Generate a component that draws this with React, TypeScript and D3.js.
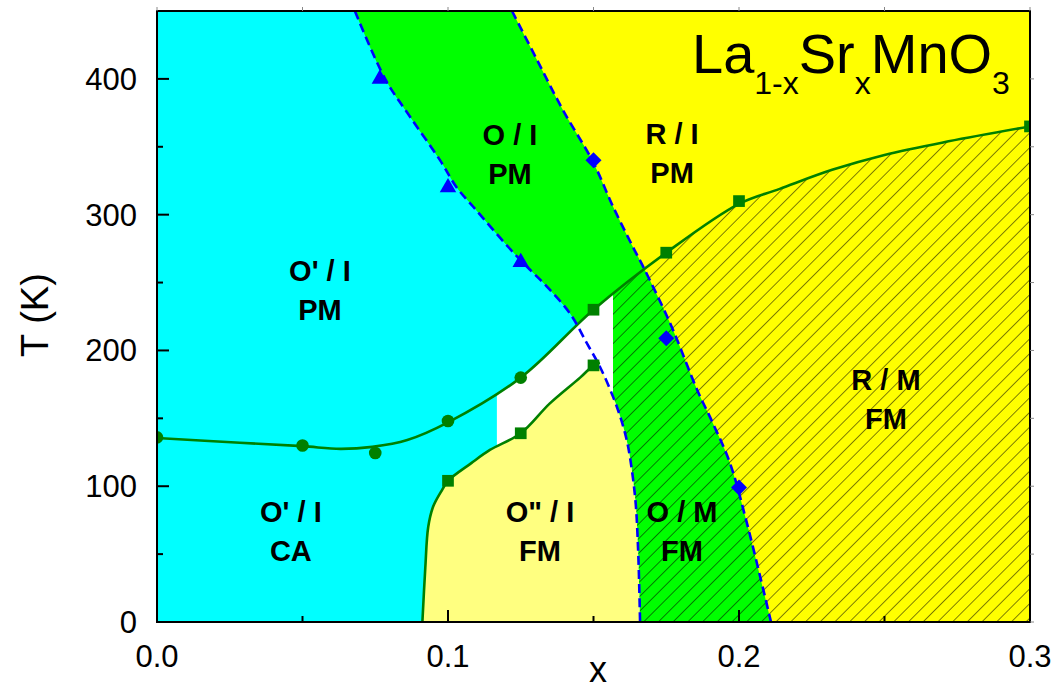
import React from "react";
import * as d3 from "d3";

// axis ticks
const xMajorTicks = [0, 0.1, 0.2, 0.3];
const xMinorTicks = [0.05, 0.15, 0.25];
const yMajorTicks = [0, 100, 200, 300, 400];
const yMinorTicks = [50, 150, 250, 350];

// phase boundaries, [x, T(K)]
const upperLine = [
  [0, 135.5], [0.0285, 132], [0.05, 129.5], [0.063, 127.5], [0.074, 129],
  [0.086, 134], [0.1, 147], [0.125, 180], [0.15, 230], [0.175, 272],
  [0.2, 308], [0.214, 319], [0.232, 333], [0.25, 344], [0.272, 354], [0.3, 365],
];
const lowerLine = [
  [0.0912, 0], [0.0922, 40], [0.0932, 70], [0.0949, 85], [0.0979, 97],
  [0.1, 104], [0.108, 117], [0.1144, 126.7], [0.125, 139], [0.135, 161],
  [0.1454, 180], [0.15, 189], [0.1522, 191],
];
const dashedLeft = [
  [0.068, 450], [0.0784, 400], [0.087, 372], [0.0973, 340], [0.103, 320],
  [0.1086, 306], [0.1208, 276], [0.127, 262], [0.134, 247], [0.142, 227],
  [0.1478, 205], [0.1522, 188], [0.1567, 166], [0.1598, 147], [0.1619, 129],
  [0.1643, 92], [0.1653, 55], [0.166, 0],
];
const dashedRight = [
  [0.122, 450], [0.1306, 414], [0.1395, 377], [0.1498, 339], [0.1567, 306],
  [0.1636, 276], [0.1677, 259], [0.1753, 225], [0.1787, 208], [0.1856, 171],
  [0.191, 146.5], [0.1969, 117], [0.2027, 73], [0.211, 0],
];
const whiteStrip = [0.1168, 0.1567];

// measured points
const circlePts = [[0, 136], [0.05, 130], [0.075, 124.5], [0.1, 148], [0.125, 180]];
const squarePts = [
  [0.1, 104], [0.125, 139], [0.15, 189],
  [0.15, 230], [0.175, 272], [0.2, 310], [0.3, 365],
];
const trianglePts = [[0.0766, 400], [0.1, 320], [0.125, 265]];
const diamondPts = [[0.15, 340], [0.175, 209], [0.2, 99]];

const phaseLabels = [
  { lines: ["O' / I", "PM"], x: 0.056, t: 251 },
  { lines: ["O / I", "PM"], x: 0.1213, t: 351 },
  { lines: ["R / I", "PM"], x: 0.177, t: 352 },
  { lines: ["O' / I", "CA"], x: 0.046, t: 73.6 },
  { lines: ['O" / I', "FM"], x: 0.1316, t: 73.6 },
  { lines: ["O / M", "FM"], x: 0.1804, t: 73.6 },
  { lines: ["R / M", "FM"], x: 0.2505, t: 171 },
];

const W = 1058;
const H = 691;
const margin = { top: 11, right: 28, bottom: 69, left: 157 };

export default function App() {
  const x = d3.scaleLinear().domain([0, 0.3]).range([margin.left, W - margin.right]);
  const y = d3.scaleLinear().domain([0, 450]).range([H - margin.bottom, margin.top]);
  const x0 = x(0), x1 = x(0.3), yb = y(0), yt = y(450);

  const line = d3
    .line<number[]>()
    .x((d) => x(d[0]))
    .y((d) => y(d[1]))
    .curve(d3.curveCatmullRom.alpha(0.5));

  const rightOf = (pts: number[][]) =>
    `${line(pts)}L${x1 + 5},${yb + 5}L${x1 + 5},${yt - 5}Z`;
  const leftOf = (pts: number[][]) =>
    `${line(pts)}L${x0 - 5},${yb + 5}L${x0 - 5},${yt - 5}Z`;

  const first = upperLine[0];
  const last = upperLine[upperLine.length - 1];
  const belowUpper =
    `${line(upperLine)}L${x1 + 5},${y(last[1])}L${x1 + 5},${yb + 5}` +
    `L${x0 - 5},${yb + 5}L${x0 - 5},${y(first[1])}Z`;

  const lTop = lowerLine[lowerLine.length - 1];
  const rightOfLower =
    `${line(lowerLine)}L${x(0.2)},${y(lTop[1])}L${x(0.2)},${yb + 5}` +
    `L${x(lowerLine[0][0])},${yb + 5}Z`;

  const tri = d3.symbol(d3.symbolTriangle, 118)();
  const sq = d3.symbol(d3.symbolSquare, 137)();
  const dia = d3.symbol(d3.symbolSquare, 128)();

  const font = "'Liberation Sans', Arial, Helvetica, sans-serif";
  const green = "#008000";
  const blue = "#0000FF";

  return (
    <svg
      width={W}
      height={H}
      style={{ position: "absolute", left: 0, top: 0, background: "#fff" }}
      fontFamily={font}
    >
      <defs>
        <clipPath id="plotArea">
          <rect x={x0} y={yt} width={x1 - x0} height={yb - yt} />
        </clipPath>
        <clipPath id="leftD1">
          <path d={leftOf(dashedLeft)} />
        </clipPath>
        <clipPath id="rightD1">
          <path d={rightOf(dashedLeft)} />
        </clipPath>
        <clipPath id="belowUpper">
          <path d={belowUpper} />
        </clipPath>
        <pattern
          id="hatch"
          patternUnits="userSpaceOnUse"
          width={10.4}
          height={10.4}
          patternTransform="rotate(45)"
        >
          <line x1={0} y1={0} x2={0} y2={10.4} stroke="#000" strokeWidth={1} />
        </pattern>
      </defs>

      <g clipPath="url(#plotArea)">
        <rect x={x0} y={yt} width={x1 - x0} height={yb - yt} fill="#00FFFF" />
        <path d={rightOf(dashedLeft)} fill="#00FF00" />
        <path d={rightOf(dashedRight)} fill="#FFFF00" />
        <g clipPath="url(#belowUpper)">
          <rect
            x={x(whiteStrip[0])}
            y={yt}
            width={x(whiteStrip[1]) - x(whiteStrip[0])}
            height={yb - yt}
            fill="#FFFFFF"
          />
        </g>
        <g clipPath="url(#leftD1)">
          <path d={rightOfLower} fill="#FFFF80" />
        </g>
        <g clipPath="url(#belowUpper)">
          <g clipPath="url(#rightD1)">
            <rect
              x={x(whiteStrip[1])}
              y={yt}
              width={x1 + 5 - x(whiteStrip[1])}
              height={yb - yt + 5}
              fill="url(#hatch)"
            />
          </g>
        </g>

        <path d={line(upperLine) || ""} fill="none" stroke={green} strokeWidth={2.6} />
        <path d={line(lowerLine) || ""} fill="none" stroke={green} strokeWidth={2.6} />
        <path
          d={line(dashedLeft) || ""}
          fill="none"
          stroke={blue}
          strokeWidth={2.6}
          strokeDasharray="9 5"
        />
        <path
          d={line(dashedRight) || ""}
          fill="none"
          stroke={blue}
          strokeWidth={2.6}
          strokeDasharray="9 5"
        />

        {circlePts.map((d, i) => (
          <circle key={"c" + i} cx={x(d[0])} cy={y(d[1])} r={6.3} fill={green} />
        ))}
        {squarePts.map((d, i) => (
          <path key={"s" + i} d={sq || ""} transform={`translate(${x(d[0])},${y(d[1])})`} fill={green} />
        ))}
        {trianglePts.map((d, i) => (
          <path key={"t" + i} d={tri || ""} transform={`translate(${x(d[0])},${y(d[1])})`} fill={blue} />
        ))}
        {diamondPts.map((d, i) => (
          <path
            key={"d" + i}
            d={dia || ""}
            transform={`translate(${x(d[0])},${y(d[1])}) rotate(45)`}
            fill={blue}
          />
        ))}
      </g>

      {phaseLabels.map((l, i) => (
        <text
          key={"l" + i}
          x={x(l.x)}
          y={y(l.t)}
          textAnchor="middle"
          fontSize={29}
          fontWeight="bold"
          fill="#000"
        >
          {l.lines.map((s, j) => (
            <tspan key={j} x={x(l.x)} dy={j === 0 ? 0 : 39}>
              {s}
            </tspan>
          ))}
        </text>
      ))}

      <text x={692} y={73} fontSize={56} fill="#000">
        La
        <tspan fontSize={32} dy={21}>1-x</tspan>
        <tspan dy={-21}>Sr</tspan>
        <tspan fontSize={32} dy={21}>x</tspan>
        <tspan dy={-21}>MnO</tspan>
        <tspan fontSize={32} dy={21}>3</tspan>
      </text>

      {/* frame */}
      <rect x={x0} y={yt} width={x1 - x0} height={yb - yt} fill="none" stroke="#000" strokeWidth={2} />

      {/* bottom / left ticks, inward */}
      {xMajorTicks.map((t) => (
        <line key={"xM" + t} x1={x(t)} x2={x(t)} y1={yb} y2={yb - 12} stroke="#000" strokeWidth={2} />
      ))}
      {xMinorTicks.map((t) => (
        <line key={"xm" + t} x1={x(t)} x2={x(t)} y1={yb} y2={yb - 6} stroke="#000" strokeWidth={2} />
      ))}
      {yMajorTicks.map((t) => (
        <line key={"yM" + t} x1={x0} x2={x0 + 12} y1={y(t)} y2={y(t)} stroke="#000" strokeWidth={2} />
      ))}
      {yMinorTicks.map((t) => (
        <line key={"ym" + t} x1={x0} x2={x0 + 6} y1={y(t)} y2={y(t)} stroke="#000" strokeWidth={2} />
      ))}
      {/* top / right ticks, outward */}
      {[...xMajorTicks, ...xMinorTicks].map((t) => (
        <line key={"xt" + t} x1={x(t)} x2={x(t)} y1={yt} y2={yt - 4} stroke="#888" strokeWidth={1} />
      ))}
      {[...yMajorTicks, ...yMinorTicks].map((t) => (
        <line key={"yr" + t} x1={x1} x2={x1 + 4} y1={y(t)} y2={y(t)} stroke="#888" strokeWidth={1} />
      ))}

      {xMajorTicks.map((t) => (
        <text key={"xl" + t} x={x(t)} y={667} textAnchor="middle" fontSize={31} fill="#000">
          {d3.format(".1f")(t)}
        </text>
      ))}
      {yMajorTicks.map((t) => (
        <text key={"yl" + t} x={137} y={y(t) + 11} textAnchor="end" fontSize={31} fill="#000">
          {t}
        </text>
      ))}

      <text x={598} y={682} textAnchor="middle" fontSize={36} fill="#000">
        x
      </text>
      <text
        transform={`translate(48,315) rotate(-90)`}
        textAnchor="middle"
        fontSize={38}
        fill="#000"
      >
        T (K)
      </text>
    </svg>
  );
}
